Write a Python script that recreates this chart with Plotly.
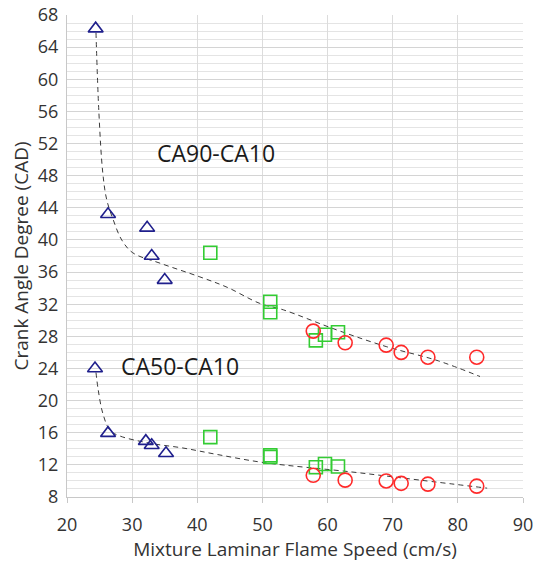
import plotly.graph_objects as go

# CA90-CA10 data
ca90_tri_x = [24.4, 26.3, 32.3, 33.0, 35.0]
ca90_tri_y = [66.3, 43.2, 41.5, 38.0, 35.0]
ca90_sq_x = [42.0, 51.2, 51.2, 58.2, 59.6, 61.6]
ca90_sq_y = [38.4, 32.3, 31.0, 27.5, 28.2, 28.5]
ca90_ci_x = [57.8, 62.7, 69.0, 71.3, 75.4, 82.9]
ca90_ci_y = [28.65, 27.2, 26.9, 26.0, 25.4, 25.4]
ca90_trend_x = [24.45, 24.9, 25.5, 26.1, 27.1, 28.4, 30.1, 34.3, 40.4, 44.6, 49.6, 53.2, 61.4, 69.1, 76.8, 83.4]
ca90_trend_y = [65.8, 55.8, 48.3, 45.0, 42.5, 40.0, 38.4, 37.1, 35.4, 34.1, 32.1, 31.3, 28.8, 26.7, 25.0, 23.0]

# CA50-CA10 data
ca50_tri_x = [24.3, 26.3, 32.1, 33.0, 35.2]
ca50_tri_y = [24.0, 15.95, 14.95, 14.45, 13.45]
ca50_sq_x = [42.0, 51.2, 51.2, 58.2, 59.6, 61.6]
ca50_sq_y = [15.45, 13.2, 13.0, 11.7, 12.1, 11.8]
ca50_ci_x = [57.8, 62.7, 69.0, 71.3, 75.4, 82.9]
ca50_ci_y = [10.7, 10.1, 10.0, 9.7, 9.6, 9.35]
ca50_trend_x = [24.45, 24.8, 25.5, 26.6, 28.1, 32.7, 37.8, 43.0, 50.1, 63.9, 74.2, 84.5]
ca50_trend_y = [23.5, 21.3, 18.4, 16.3, 15.6, 14.7, 14.1, 13.3, 12.3, 11.1, 10.1, 9.1]

x_ticks = [20, 30, 40, 50, 60, 70, 80, 90]
y_ticks = list(range(8, 69, 4))

NAVY = '#1f1f8c'
GREEN = '#33cc33'
RED = '#ff2a2a'

fig = go.Figure()

for tx, ty in [(ca90_trend_x, ca90_trend_y), (ca50_trend_x, ca50_trend_y)]:
    fig.add_trace(go.Scatter(x=tx, y=ty, mode='lines', line_shape='spline',
                             line=dict(color='#3a3a3a', width=1, dash='5px,4px'),
                             hoverinfo='skip'))

marker_sets = [
    (ca90_tri_x, ca90_tri_y, 'triangle-up-open', NAVY, 13),
    (ca50_tri_x, ca50_tri_y, 'triangle-up-open', NAVY, 13),
    (ca90_sq_x, ca90_sq_y, 'square-open', GREEN, 13),
    (ca50_sq_x, ca50_sq_y, 'square-open', GREEN, 13),
    (ca90_ci_x, ca90_ci_y, 'circle-open', RED, 14),
    (ca50_ci_x, ca50_ci_y, 'circle-open', RED, 14),
]
for mx, my, sym, col, sz in marker_sets:
    fig.add_trace(go.Scatter(x=mx, y=my, mode='markers',
                             marker=dict(symbol=sym, size=sz, color=col,
                                         line=dict(color=col, width=1.6))))

fig.add_annotation(x=42.9, y=50.8, text='CA90-CA10', showarrow=False,
                   font=dict(size=23, color='#1a1a1a'))
fig.add_annotation(x=37.3, y=24.3, text='CA50-CA10', showarrow=False,
                   font=dict(size=23, color='#1a1a1a'))

fig.update_layout(
    width=535, height=565,
    margin=dict(l=67, r=12, t=15, b=68),
    paper_bgcolor='white', plot_bgcolor='white',
    showlegend=False,
    font=dict(family='Open Sans, sans-serif', color='#333333'),
    xaxis=dict(
        range=[20, 90], tickvals=x_ticks, showgrid=True, gridcolor='#dcdcdc',
        gridwidth=1, zeroline=False, showline=True, linecolor='#c8c8c8',
        tickfont=dict(size=18), ticks='outside', ticklen=5, tickcolor='#c8c8c8',
        ticklabelstandoff=6,
        title=dict(text='Mixture Laminar Flame Speed (cm/s)', font=dict(size=19), standoff=4),
        automargin=False,
    ),
    yaxis=dict(
        range=[8, 68], tickvals=y_ticks, showgrid=True, gridcolor='#d4d4d4',
        gridwidth=1, zeroline=False, showline=True, linecolor='#c8c8c8',
        tickfont=dict(size=18), ticks='', ticklabelstandoff=4,
        minor=dict(dtick=1, showgrid=True, gridcolor='#e4e4e4', gridwidth=1),
        title=dict(text='Crank Angle Degree (CAD)', font=dict(size=19), standoff=4),
        automargin=False,
    ),
)

# drop the default 8px page margin so the figure fills the window exactly
fig.write_html('out.html', config={'displayModeBar': False},
               post_script="document.body.style.margin='0';")
